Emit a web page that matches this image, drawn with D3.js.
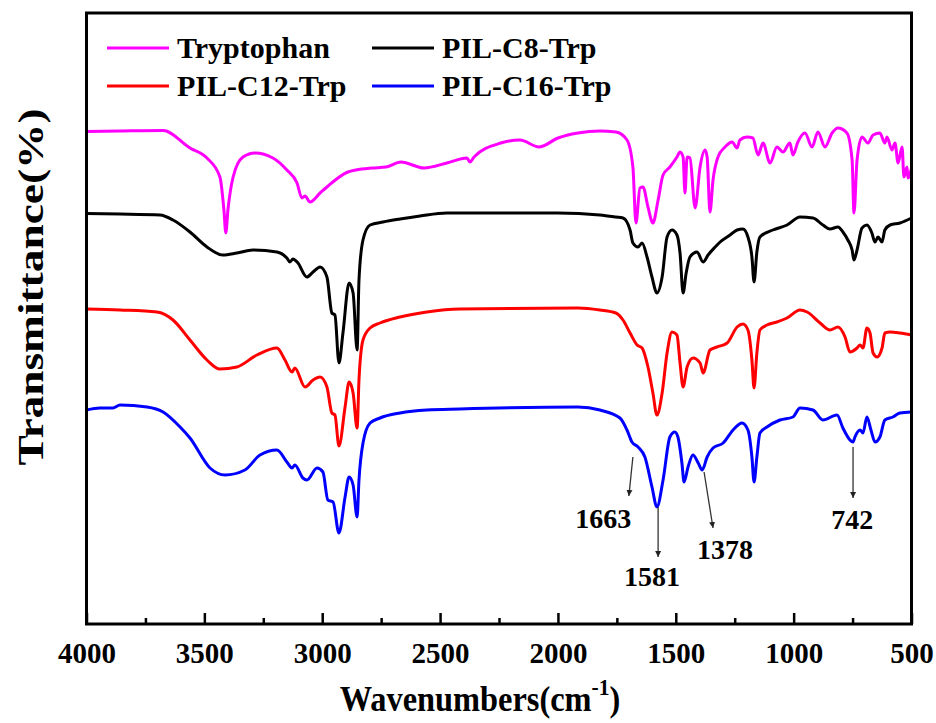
<!DOCTYPE html>
<html>
<head>
<meta charset="utf-8" />
<script src="https://d3js.org/d3.v7.min.js"></script>
<style>
  body { margin: 0; background: #fff; }
  text { font-family: "Liberation Serif", "Times New Roman", serif; font-weight: bold; }
</style>
</head>
<body>
<script>
var w = 936, h = 723;
var margin = {top: 13, right: 24.5, bottom: 99, left: 86.5};

// [wavenumber, transmittance (stacked, a.u.)]
var tryptophan = [[4000,98.5],[3858,98.6],[3675,98.7],[3561,95.2],[3489,93.2],[3434,89.4],[3417,82.8],
  [3409,78.2],[3400,82.8],[3378,89.4],[3336,93.4],[3285,94.2],[3209,93.2],[3150,90.8],[3107,88.2],
  [3086,85.2],[3073,85.6],[3052,84.4],[3009,86.2],[2980,87.4],[2891,90.4],[2857,90.8],[2789,91.2],
  [2729,91.4],[2666,92.4],[2568,91.2],[2471,92.2],[2386,93.2],[2373,92.4],[2356,93.4],[2242,96.2],
  [2161,96.8],[2080,95.4],[2000,97.2],[1915,98.2],[1822,98.6],[1754,98.4],[1707,96.8],[1682,91.4],
  [1669,80.2],[1652,87.2],[1639,87.4],[1618,83.4],[1597,80.2],[1575,84.8],[1554,89.8],[1525,91.4],
  [1495,93.4],[1482,94.4],[1469,93.4],[1461,86.2],[1452,93.4],[1440,93.2],[1418,83.2],[1397,91.4],
  [1376,94.8],[1367,93.4],[1355,82.4],[1342,88.8],[1321,93.4],[1291,95.4],[1261,96.4],[1240,95.2],
  [1228,96.8],[1198,97.4],[1173,97.2],[1151,93.8],[1130,96.2],[1100,92.2],[1071,95.4],[1045,94.4],
  [1016,96.2],[1003,93.8],[982,96.4],[952,98.2],[922,95.4],[897,98.4],[867,95.4],[837,98.2],
  [812,99.2],[774,98.2],[752,92.8],[744,82.2],[731,92.8],[710,97.4],[685,96.2],[663,97.8],
  [634,98.2],[613,96.2],[604,97.4],[583,94.8],[570,96.2],[557,92.2],[540,95.4],[532,89.4],
  [519,91.4],[515,89.2],[500,91.2]];

var pilC8 = [[4000,82.1],[3858,82.0],[3688,81.8],[3633,80.8],[3561,78.4],[3489,75.4],[3422,73.8],
  [3362,74.2],[3294,74.8],[3192,74.4],[3150,73.2],[3137,72.4],[3124,73.0],[3103,72.2],[3065,69.4],
  [3039,70.4],[3009,71.4],[2980,69.4],[2959,62.2],[2946,61.8],[2929,52.2],[2912,58.2],[2886,68.2],
  [2869,66.2],[2852,54.8],[2844,68.8],[2827,76.8],[2797,79.8],[2742,80.4],[2670,81.0],[2585,81.6],
  [2471,82.2],[2416,82.2],[2000,82.2],[1822,81.8],[1754,81.4],[1724,81.2],[1694,78.8],[1682,76.2],
  [1660,75.4],[1643,76.2],[1622,73.4],[1601,69.4],[1580,66.2],[1558,69.4],[1537,77.4],[1516,78.8],
  [1495,77.8],[1482,74.2],[1469,66.2],[1456,70.2],[1440,73.4],[1410,74.4],[1384,72.4],[1363,73.8],
  [1333,75.4],[1312,76.4],[1270,77.8],[1240,78.8],[1215,79.0],[1194,77.4],[1177,73.4],[1168,68.4],
  [1156,74.4],[1143,77.4],[1088,78.8],[1028,79.8],[973,81.4],[918,81.2],[876,79.8],[846,79.0],
  [812,79.4],[791,78.4],[770,76.8],[752,74.8],[744,72.8],[731,74.8],[710,79.2],[689,79.8],
  [668,78.2],[655,76.4],[642,77.4],[625,76.4],[613,78.8],[591,79.8],[549,80.2],[500,81.2]];

var pilC12 = [[4000,63.0],[3858,62.8],[3701,62.4],[3633,60.8],[3561,56.8],[3489,52.8],[3434,51.0],
  [3362,51.4],[3277,53.8],[3192,55.2],[3158,52.8],[3128,50.4],[3116,51.2],[3073,47.4],[3039,48.8],
  [3009,49.4],[2980,47.4],[2959,42.2],[2946,41.8],[2929,35.6],[2903,43.4],[2886,48.4],[2869,46.2],
  [2852,39.2],[2844,48.8],[2827,56.8],[2797,59.2],[2755,60.2],[2670,61.4],[2556,62.4],[2416,63.0],
  [1915,63.2],[1822,62.8],[1754,62.2],[1724,60.8],[1694,58.2],[1664,55.8],[1643,55.2],[1618,51.4],
  [1597,46.2],[1580,41.8],[1558,46.2],[1537,54.2],[1516,58.4],[1495,57.8],[1482,52.2],[1469,47.4],
  [1452,51.4],[1427,53.2],[1397,52.2],[1384,50.2],[1355,54.8],[1325,55.4],[1282,56.2],[1240,59.4],
  [1215,60.0],[1194,58.8],[1177,52.8],[1168,47.2],[1156,54.2],[1143,58.8],[1113,59.8],[1071,60.4],
  [1028,61.2],[973,62.8],[943,62.4],[888,60.2],[846,58.8],[812,59.4],[782,57.4],[761,54.4],
  [731,55.2],[718,55.8],[706,55.2],[689,59.2],[676,58.2],[663,54.2],[646,53.4],[625,55.2],
  [613,58.2],[591,58.4],[549,58.2],[500,57.8]];

var pilC16 = [[4000,42.8],[3943,43.2],[3888,43.2],[3858,43.8],[3743,43.4],[3675,42.4],[3603,39.4],
  [3561,37.2],[3476,31.2],[3412,29.8],[3328,30.8],[3264,33.8],[3192,34.8],[3150,32.4],[3128,31.2],
  [3116,31.8],[3082,29.2],[3065,28.8],[3022,31.2],[2997,30.4],[2976,24.8],[2954,24.4],[2929,18.2],
  [2903,25.4],[2886,29.4],[2869,27.8],[2852,21.4],[2844,28.8],[2827,36.2],[2797,40.2],[2755,41.2],
  [2670,42.2],[2556,42.8],[2416,43.0],[1915,43.4],[1822,42.8],[1737,41.2],[1707,38.8],[1686,36.4],
  [1660,35.4],[1631,33.4],[1601,27.4],[1580,23.4],[1554,28.8],[1525,37.4],[1504,38.4],[1491,37.4],
  [1474,32.2],[1465,28.4],[1448,31.4],[1427,33.8],[1405,32.2],[1388,30.8],[1367,33.4],[1342,35.2],
  [1299,36.2],[1257,38.8],[1219,40.2],[1194,38.8],[1177,33.4],[1168,28.4],[1156,33.4],[1143,38.2],
  [1113,39.4],[1058,40.8],[1003,41.4],[973,43.2],[918,42.8],[876,40.8],[816,41.8],[791,39.2],
  [761,36.8],[748,36.4],[740,37.4],[718,38.8],[706,38.2],[689,41.4],[672,38.8],[655,36.4],
  [634,37.4],[613,40.8],[579,41.4],[549,42.2],[500,42.4]];

var seriesNames = ["Tryptophan", "PIL-C8-Trp", "PIL-C12-Trp", "PIL-C16-Trp"];
var seriesColors = ["#ff00ff", "#000000", "#ff0000", "#0000ff"];
var seriesData = [tryptophan, pilC8, pilC12, pilC16];

var majorTicks = [4000, 3500, 3000, 2500, 2000, 1500, 1000, 500];
var minorTicks = [3750, 3250, 2750, 2250, 1750, 1250, 750];

// peak annotations: label, arrow start/end [wn, T], label position [wn, T]
var annoLabels = ["1663", "1581", "1378", "742"];
var annoFrom = [[1682, 33.4], [1575, 23.4], [1380, 30.4], [748, 35.4]];
var annoTo = [[1699, 25.6], [1575, 13.4], [1342, 19.2], [748, 25.2]];
var annoText = [[1808, 19.2], [1601, 7.6], [1291, 13.0], [751, 19.0]];

var svg = d3.select("body").append("svg")
    .attr("width", w)
    .attr("height", h);

var x = d3.scaleLinear().domain([4000, 500]).range([margin.left, w - margin.right]);
var y = d3.scaleLinear().domain([0, 122.2]).range([h - margin.bottom, margin.top]);

var line = d3.line()
    .x(function(d){ return x(d[0]); })
    .y(function(d){ return y(d[1]); })
    .curve(d3.curveMonotoneX);

svg.selectAll("path.spec")
   .data(seriesData)
   .enter()
   .append("path")
   .attr("class", "spec")
   .attr("d", line)
   .attr("fill", "none")
   .attr("stroke", function(d, i){ return seriesColors[i]; })
   .attr("stroke-width", 3)
   .attr("stroke-linejoin", "round");

// frame
svg.append("rect")
   .attr("x", margin.left)
   .attr("y", margin.top)
   .attr("width", w - margin.left - margin.right)
   .attr("height", h - margin.top - margin.bottom)
   .attr("fill", "none")
   .attr("stroke", "#000")
   .attr("stroke-width", 3);

var xAxis = svg.append("g")
   .attr("transform", "translate(0," + (h - margin.bottom) + ")")
   .call(d3.axisBottom(x).tickValues(majorTicks).tickSizeInner(-11).tickSizeOuter(0).tickPadding(18).tickFormat(d3.format("d")));
xAxis.select(".domain").remove();
xAxis.selectAll("line").attr("stroke-width", 2.5);
xAxis.selectAll("text").attr("font-size", 29).attr("font-family", "Liberation Serif, serif").attr("font-weight", "bold").attr("fill", "#000");

var xMinor = svg.append("g")
   .attr("transform", "translate(0," + (h - margin.bottom) + ")")
   .call(d3.axisBottom(x).tickValues(minorTicks).tickSizeInner(-6).tickSizeOuter(0).tickFormat(""));
xMinor.select(".domain").remove();
xMinor.selectAll("line").attr("stroke-width", 2.5);

// axis titles
var xt = svg.append("text")
   .attr("transform", "translate(480,711) scale(0.9,1)")
   .attr("text-anchor", "middle")
   .attr("font-size", 36);
xt.append("tspan").text("Wavenumbers(cm");
xt.append("tspan").attr("font-size", 24).attr("dy", -16).text("-1");
xt.append("tspan").attr("dy", 16).text(")");

svg.append("text")
   .attr("transform", "translate(43,287) rotate(-90)")
   .attr("text-anchor", "middle")
   .attr("font-size", 36)
   .attr("textLength", 357)
   .attr("lengthAdjust", "spacingAndGlyphs")
   .text("Transmittance(%)");

// legend
var legX = [107, 372];
var legY = [48, 86];
var leg = svg.selectAll("g.leg")
   .data(seriesNames)
   .enter()
   .append("g")
   .attr("class", "leg")
   .attr("transform", function(d, i){ return "translate(" + legX[i % 2] + "," + legY[Math.floor(i / 2)] + ")"; });
leg.append("line")
   .attr("x1", 0).attr("x2", 62)
   .attr("stroke", function(d, i){ return seriesColors[i]; })
   .attr("stroke-width", 3);
leg.append("text")
   .attr("x", 70)
   .attr("y", 10)
   .attr("font-size", 30)
   .text(function(d){ return d; });

// annotations
svg.append("defs").append("marker")
   .attr("id", "arr")
   .attr("viewBox", "0 0 10 10")
   .attr("refX", 10).attr("refY", 5)
   .attr("markerWidth", 6).attr("markerHeight", 9)
   .attr("markerUnits", "userSpaceOnUse")
   .attr("orient", "auto")
   .append("path")
   .attr("d", "M0,0 L10,5 L0,10 Z")
   .attr("fill", "#222");

svg.selectAll("line.anno")
   .data(annoLabels)
   .enter()
   .append("line")
   .attr("class", "anno")
   .attr("x1", function(d, i){ return x(annoFrom[i][0]); })
   .attr("y1", function(d, i){ return y(annoFrom[i][1]); })
   .attr("x2", function(d, i){ return x(annoTo[i][0]); })
   .attr("y2", function(d, i){ return y(annoTo[i][1]); })
   .attr("stroke", "#333")
   .attr("stroke-width", 1.3)
   .attr("marker-end", "url(#arr)");

svg.selectAll("text.anno")
   .data(annoLabels)
   .enter()
   .append("text")
   .attr("class", "anno")
   .attr("x", function(d, i){ return x(annoText[i][0]); })
   .attr("y", function(d, i){ return y(annoText[i][1]); })
   .attr("text-anchor", "middle")
   .attr("font-size", 28)
   .text(function(d){ return d; });
</script>
</body>
</html>
